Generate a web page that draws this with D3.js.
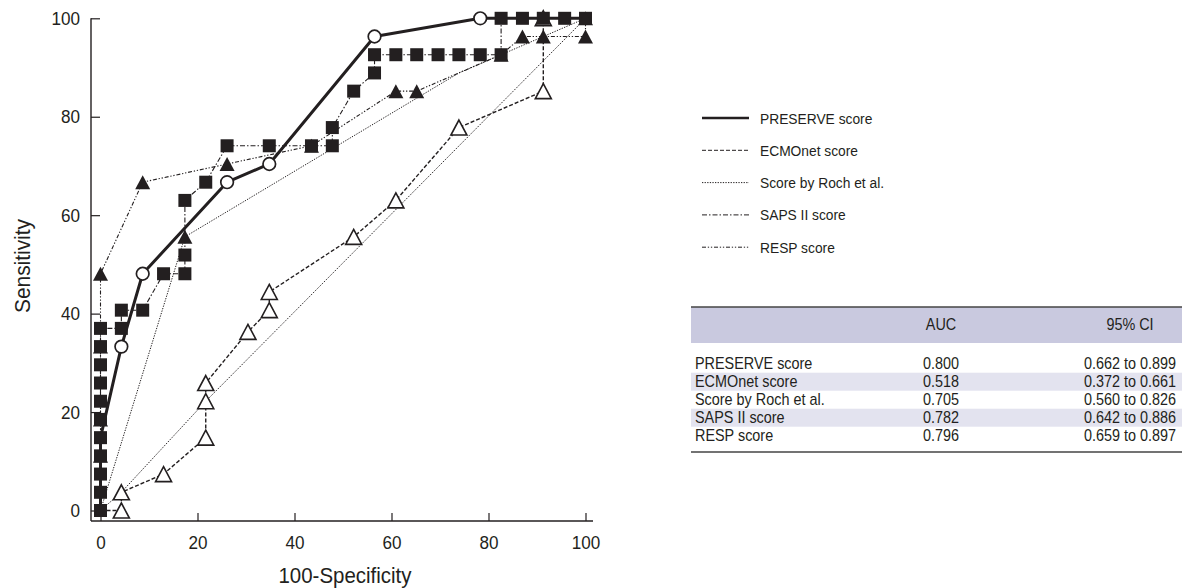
<!DOCTYPE html>
<html><head><meta charset="utf-8">
<script src="https://cdn.jsdelivr.net/npm/d3@7"></script>
<style>
body{margin:0;background:#fff}
text{font-family:"Liberation Sans",Arial,sans-serif;fill:#231f20}
</style>
</head><body>
<svg id="c" width="1189" height="588"></svg>
<script>
// ---------- data ----------
const xTicks = [0, 20, 40, 60, 80, 100];
const yTicks = [0, 20, 40, 60, 80, 100];
const xTitle = "100-Specificity";
const yTitle = "Sensitivity";

const preserve = [[0,0],[0,14.8],[4.3,33.3],[8.7,48.1],[26.1,66.7],[34.8,70.4],[56.5,96.3],[78.3,100],[100,100]];
const ecmonet = [[0,0],[4.3,0],[4.3,3.7],[13,7.4],[21.7,14.8],[21.7,22.2],[21.7,25.9],[30.4,36.3],[34.8,40.7],[34.8,44.4],[52.2,55.6],[60.9,63],[73.9,77.8],[91.3,85.2],[91.3,100],[100,100]];
const ecmonetDiag = [[0,0],[4.3,3.7],[21.7,22.2],[100,100]];
const roch = [[0,0],[17.4,55.6],[73.9,88.9],[82.6,92.6],[91.3,96.3],[100,100]];
const rochMarkers = [[17.4,55.6]];
const saps = [[0,0],[0,3.7],[0,7.4],[0,11.1],[0,14.8],[0,18.5],[0,22.2],[0,25.9],[0,29.6],[0,33.3],[0,37],[4.3,37],[4.3,40.7],[8.7,40.7],[13,48.1],[17.4,48.1],[17.4,51.9],[17.4,63],[21.7,66.7],[26.1,74.1],[34.8,74.1],[43.5,74.1],[47.8,74.1],[47.8,77.8],[52.2,85.2],[56.5,88.9],[56.5,92.6],[60.9,92.6],[65.2,92.6],[69.6,92.6],[73.9,92.6],[78.3,92.6],[82.6,92.6],[82.6,100],[87,100],[91.3,100],[95.7,100],[100,100]];
const resp = [[0,0],[0,11.1],[0,18.5],[0,33.3],[0,48.1],[8.7,66.7],[26.1,70.4],[43.5,74.1],[60.9,85.2],[65.2,85.2],[82.6,92.6],[87,96.3],[91.3,96.3],[100,96.3],[100,100]];

const seriesNames = ["PRESERVE score","ECMOnet score","Score by Roch et al.","SAPS II score","RESP score"];
const tableHeader = ["", "AUC", "95% CI"];
const aucValues = ["0.800","0.518","0.705","0.782","0.796"];
const ciValues = ["0.662 to 0.899","0.372 to 0.661","0.560 to 0.826","0.642 to 0.886","0.659 to 0.897"];

// ---------- styles ----------
const styles = [
  {w:3, dash:null},
  {w:1.4, dash:"4,2"},
  {w:1, dash:"1.3,1.3"},
  {w:1.1, dash:"5,2,1.5,2"},
  {w:1.1, dash:"4,1.8,1.3,1.8,1.3,1.8"}
];

const svg = d3.select("#c");
const x = d3.scaleLinear().domain([0,100]).range([100.5,585.5]);
const y = d3.scaleLinear().domain([0,100]).range([510.5,18.3]);
const axisX0 = 91, axisY0 = 521, axisRight = 593;
const ink = "#231f20";

function txt(px, py, str, size, anchor, sx, rot){
  return svg.append("text")
    .attr("transform", `translate(${px},${py})${rot?` rotate(${rot})`:""} scale(${sx},1)`)
    .attr("text-anchor", anchor).attr("dy","0.36em").style("font-size", size+"px").text(str);
}

// axes
const gy = svg.append("g").attr("transform",`translate(${axisX0},0)`)
  .call(d3.axisLeft(y).tickValues(yTicks).tickSizeInner(-9).tickSizeOuter(0).tickPadding(11));
gy.select(".domain").remove();
gy.selectAll(".tick line").attr("stroke",ink).attr("stroke-width",1.2);
gy.selectAll(".tick text").style("font-size","19px").attr("fill",ink)
  .attr("x",0).attr("transform","translate(-11,0) scale(0.9,1)");

const gx = svg.append("g").attr("transform",`translate(0,${axisY0})`)
  .call(d3.axisBottom(x).tickValues(xTicks).tickSizeInner(-8).tickSizeOuter(0).tickPadding(15));
gx.select(".domain").remove();
gx.selectAll(".tick line").attr("stroke",ink).attr("stroke-width",1.2);
gx.selectAll(".tick text").style("font-size","19px").attr("fill",ink).attr("transform","scale(0.9,1)");

svg.append("line").attr("x1",axisX0).attr("x2",axisX0).attr("y1",y(100)).attr("y2",axisY0).attr("stroke",ink).attr("stroke-width",1.4);
svg.append("line").attr("x1",axisX0).attr("x2",axisRight).attr("y1",axisY0).attr("y2",axisY0).attr("stroke",ink).attr("stroke-width",1.4);

txt(345, 575, xTitle, 22, "middle", 0.93);
txt(22, 266, yTitle, 22, "middle", 0.95, -90);

// lines
const line = d3.line().x(d=>x(d[0])).y(d=>y(d[1]));
function drawLine(data, st){
  svg.append("path").attr("d",line(data)).attr("fill","none").attr("stroke",ink)
    .attr("stroke-width",st.w).attr("stroke-dasharray",st.dash).attr("stroke-linejoin","round");
}
drawLine(ecmonetDiag, styles[2]);
drawLine(roch, styles[2]);
drawLine(ecmonet, styles[1]);
drawLine(saps, styles[3]);
drawLine(resp, styles[4]);
drawLine(preserve, styles[0]);

// markers
const tri = (w,h)=>`M0,${-h/2}L${w/2},${h/2}L${-w/2},${h/2}Z`;
svg.append("g").selectAll("path").data(ecmonet.slice(1,-1)).join("path")
  .attr("d",tri(16,15)).attr("transform",d=>`translate(${x(d[0])},${y(d[1])})`)
  .attr("fill","#fff").attr("stroke",ink).attr("stroke-width",1.6);
svg.append("g").selectAll("rect").data(saps).join("rect")
  .attr("x",d=>x(d[0])-6.5).attr("y",d=>y(d[1])-6.5).attr("width",13).attr("height",13).attr("fill",ink);
svg.append("g").selectAll("path").data(resp.slice(1).concat(rochMarkers)).join("path")
  .attr("d",tri(15,14)).attr("transform",d=>`translate(${x(d[0])},${y(d[1])})`).attr("fill",ink);
svg.append("g").selectAll("circle").data(preserve.slice(2,-1)).join("circle")
  .attr("cx",d=>x(d[0])).attr("cy",d=>y(d[1])).attr("r",6.3)
  .attr("fill","#fff").attr("stroke",ink).attr("stroke-width",1.7);

// legend
seriesNames.forEach((name,i)=>{
  const cy = 118 + i*32.3;
  svg.append("line").attr("x1",702).attr("x2",749).attr("y1",cy).attr("y2",cy).attr("stroke",ink)
    .attr("stroke-width", i===0?2.5:1).attr("stroke-dasharray", i===0?null:styles[i].dash);
  txt(760, cy, name, 15.5, "start", 0.89);
});

// table
const tX0 = 691, tX1 = 1182, tTop = 307;
svg.append("rect").attr("x",tX0).attr("y",tTop).attr("width",tX1-tX0).attr("height",36).attr("fill","#c9c9df");
const rowY0 = 354.7, rowH = 18;
seriesNames.forEach((name,i)=>{
  if(i%2===1) svg.append("rect").attr("x",tX0).attr("y",rowY0+i*rowH).attr("width",tX1-tX0).attr("height",rowH).attr("fill","#e3e3ef");
});
svg.append("line").attr("x1",tX0).attr("x2",tX1).attr("y1",tTop).attr("y2",tTop).attr("stroke","#444").attr("stroke-width",1.5);
svg.append("line").attr("x1",tX0).attr("x2",tX1).attr("y1",452).attr("y2",452).attr("stroke","#444").attr("stroke-width",1.5);
const colX = [695, 941, 1130];
tableHeader.forEach((h,j)=>{ if(h) txt(colX[j], 324, h, 16, "middle", 0.9); });
seriesNames.forEach((name,i)=>{
  const cy = rowY0 + i*rowH + rowH/2;
  txt(colX[0], cy, name, 16, "start", 0.9);
  txt(colX[1], cy, aucValues[i], 16, "middle", 0.9);
  txt(colX[2], cy, ciValues[i], 16, "middle", 0.9);
});
</script>
</body></html>
